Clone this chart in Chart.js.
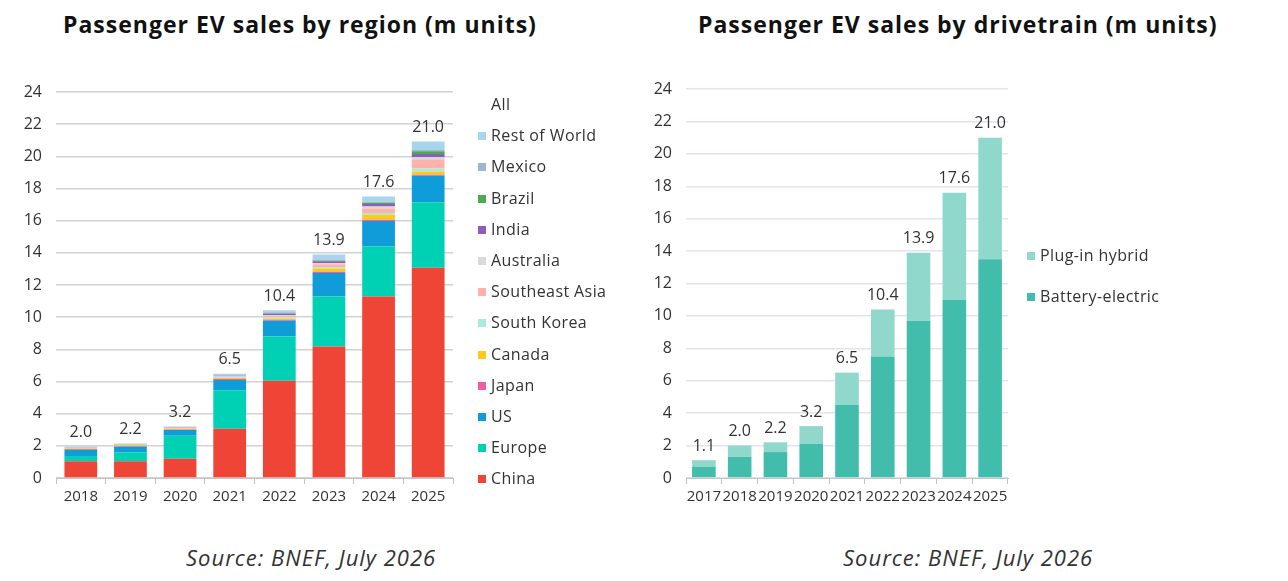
<!DOCTYPE html>
<html>
<head>
<meta charset="utf-8">
<script src="https://cdn.jsdelivr.net/npm/chart.js@4"></script>
<style>
	body { margin: 0; background: #fff; font-family: "Open Sans", sans-serif; color: #222; }
	.wrap { position: relative; width: 1288px; height: 581px; overflow: hidden; }
	.title { position: absolute; top: 8px; font-weight: 700; font-size: 23px; letter-spacing: 1px; color: #111; white-space: nowrap; }
	.source { position: absolute; top: 542px; font-style: italic; font-size: 22px; letter-spacing: 1px; color: #333; white-space: nowrap; }
	.cv { position: absolute; top: 60px; height: 460px; }
	.legend { position: absolute; font-size: 16px; letter-spacing: 0.4px; color: #333; }
	.legend div { position: absolute; white-space: nowrap; line-height: 20px; }
	.legend span { display: inline-block; width: 8px; height: 8px; margin-right: 5px; vertical-align: 1px; }
</style>
</head>
<body>
<div class="wrap">
	<div class="title" style="left:63px">Passenger EV sales by region (m units)</div>
	<div class="title" style="left:698px">Passenger EV sales by drivetrain (m units)</div>
	<div class="cv" style="left:0;width:640px"><canvas id="regionChart"></canvas></div>
	<div class="cv" style="left:640px;width:648px"><canvas id="driveChart"></canvas></div>
	<div class="legend" id="regionLegend" style="left:478px;top:0"></div>
	<div class="legend" id="driveLegend" style="left:1027px;top:0"></div>
	<div class="source" style="left:186px">Source: BNEF, July 2026</div>
	<div class="source" style="left:843px">Source: BNEF, July 2026</div>
</div>
<script>
//REGION CHART DATA (m units)
const regionYears = ["2018", "2019", "2020", "2021", "2022", "2023", "2024", "2025"];
const china = [1.04, 1.04, 1.19, 3.06, 6.04, 8.18, 11.28, 13.07];
const europe = [0.33, 0.56, 1.43, 2.39, 2.76, 3.1, 3.12, 4.08];
const us = [0.38, 0.34, 0.36, 0.65, 0.98, 1.46, 1.58, 1.64];
const japan = [0.06, 0.04, 0.03, 0.05, 0.06, 0.08, 0.08, 0.06];
const canada = [0.04, 0.06, 0.06, 0.06, 0.08, 0.2, 0.29, 0.2];
const southKorea = [0.03, 0.03, 0.04, 0.06, 0.08, 0.1, 0.12, 0.2];
const southeastAsia = [0.01, 0.01, 0.01, 0.03, 0.08, 0.17, 0.29, 0.52];
const australia = [0.01, 0.01, 0.01, 0.03, 0.06, 0.08, 0.12, 0.17];
const india = [0.005, 0.005, 0.005, 0.02, 0.08, 0.1, 0.15, 0.2];
const brazil = [0.005, 0.005, 0.005, 0.01, 0.03, 0.05, 0.08, 0.17];
const mexico = [0.01, 0.01, 0.01, 0.02, 0.06, 0.06, 0.08, 0.08];
const restOfWorld = [0.04, 0.04, 0.05, 0.1, 0.12, 0.32, 0.31, 0.54];
const regionTotals = [2.0, 2.2, 3.2, 6.5, 10.4, 13.9, 17.6, 21.0];

//DRIVETRAIN CHART DATA (m units)
const driveYears = ["2017", "2018", "2019", "2020", "2021", "2022", "2023", "2024", "2025"];
const batteryElectric = [0.7, 1.3, 1.6, 2.1, 4.5, 7.5, 9.7, 11.0, 13.5];
const pluginHybrid = [0.4, 0.7, 0.6, 1.1, 2.0, 2.9, 4.2, 6.6, 7.5];
const driveTotals = [1.1, 2.0, 2.2, 3.2, 6.5, 10.4, 13.9, 17.6, 21.0];

const yTicks = [0, 2, 4, 6, 8, 10, 12, 14, 16, 18, 20, 22, 24];

const regionSeries = [
	["China", china, "#ef4536"],
	["Europe", europe, "#00d0b3"],
	["US", us, "#0f9cd9"],
	["Japan", japan, "#ee5ea8"],
	["Canada", canada, "#ffc914"],
	["South Korea", southKorea, "#a9ecde"],
	["Southeast Asia", southeastAsia, "#ffb1aa"],
	["Australia", australia, "#d9d9d9"],
	["India", india, "#8d5db9"],
	["Brazil", brazil, "#4caa50"],
	["Mexico", mexico, "#9db6d4"],
	["Rest of World", restOfWorld, "#a8d4ee"],
];
const driveSeries = [
	["Battery-electric", batteryElectric, "#43bdab"],
	["Plug-in hybrid", pluginHybrid, "#91d8cc"],
];

Chart.defaults.font.family = '"Open Sans", sans-serif';
Chart.defaults.color = "#333";
Chart.defaults.animation = false;

//TOTAL LABEL ABOVE EACH STACK
const totalLabels = {
	id: "totalLabels",
	afterDatasetsDraw(chart, args, opts) {
		const ctx = chart.ctx;
		const last = chart.getDatasetMeta(chart.data.datasets.length - 1);
		ctx.save();
		ctx.font = '16px "Open Sans", sans-serif';
		ctx.fillStyle = "#333";
		ctx.textAlign = "center";
		ctx.textBaseline = "bottom";
		last.data.forEach((bar, i) => {
			ctx.fillText(opts.totals[i].toFixed(1), bar.x, bar.y - 6);
		});
		ctx.restore();
	},
};

const makeChart = (id, labels, series, totals, gridColor, pad, axisWidth) => {
	return new Chart(document.getElementById(id), {
		type: "bar",
		data: {
			labels: labels,
			datasets: series.map((s) => ({
				label: s[0],
				data: s[1],
				backgroundColor: s[2],
				borderWidth: 0,
				barPercentage: 0.66,
				categoryPercentage: 1,
			})),
		},
		options: {
			responsive: true,
			maintainAspectRatio: false,
			layout: { padding: pad },
			plugins: {
				legend: { display: false },
				tooltip: { enabled: false },
				totalLabels: { totals: totals },
			},
			scales: {
				x: {
					stacked: true,
					grid: {
						offset: true,
						drawOnChartArea: false,
						drawTicks: true,
						tickLength: 6,
						color: "#c4c4c4",
					},
					border: { display: true, color: "#c4c4c4" },
					ticks: {
						font: { size: 15 },
						padding: 4,
						maxRotation: 0,
						minRotation: 0,
						autoSkip: false,
					},
				},
				y: {
					stacked: true,
					min: 0,
					max: 24,
					afterBuildTicks: (scale) => {
						scale.ticks = yTicks.map((v) => ({ value: v }));
					},
					afterFit: (scale) => {
						scale.width = axisWidth;
					},
					grid: { color: gridColor, lineWidth: 1.5, drawTicks: false },
					border: { display: false },
					ticks: { font: { size: 16 }, padding: 14 },
				},
			},
		},
		plugins: [totalLabels],
	});
};

makeChart("regionChart", regionYears, regionSeries, regionTotals, "#d2d2d2",
	{ top: 32, bottom: 10, left: 0, right: 187 }, 56);
makeChart("driveChart", driveYears, driveSeries, driveTotals, "#dfe4ef",
	{ top: 29, bottom: 10, left: 0, right: 280 }, 46);

//HTML LEGENDS
const buildLegend = (el, items, top, step) => {
	items.forEach((item, i) => {
		const row = document.createElement("div");
		row.style.top = top + i * step - 10 + "px";
		row.innerHTML = `<span style="background:${item[2] || "transparent"}"></span>${item[0]}`;
		el.appendChild(row);
	});
};
buildLegend(document.getElementById("regionLegend"),
	[["All", null, null]].concat(regionSeries.slice().reverse()), 104, 31.2);
buildLegend(document.getElementById("driveLegend"),
	driveSeries.slice().reverse(), 255, 41);
</script>
</body>
</html>
